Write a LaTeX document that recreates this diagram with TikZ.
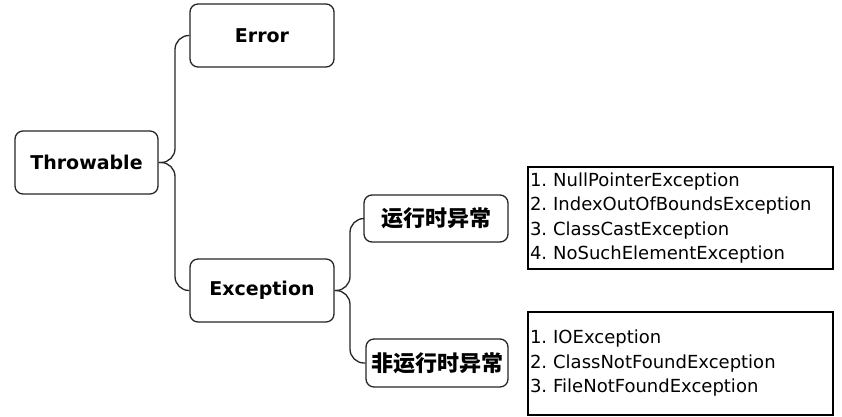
\documentclass[tikz,border=0pt]{standalone}
\usepackage{fontspec}
\setmainfont{DejaVu Sans}
\newfontfamily\cjk{Noto Sans CJK SC}
\frenchspacing
\begin{document}
\begin{tikzpicture}[x=1pt,y=-1pt,
  box/.style={draw=black!85, line width=1.3pt, rounded corners=8pt, fill=white, inner sep=0pt},
  title/.style={box, font=\fontsize{19}{22}\selectfont\bfseries},
  cn/.style={box, font=\cjk\bfseries\fontsize{22}{24}\selectfont},
  list/.style={draw=black, line width=1.5pt, inner sep=0pt, text width=301pt, minimum width=305pt, align=left, font=\fontsize{18}{24.5}\selectfont},
  conn/.style={draw=black!85, line width=1.3pt, rounded corners=14pt}
]
\useasboundingbox (0,0) rectangle (842,416);
\node[title, minimum width=143pt, minimum height=63pt] (thr) at (86.5,162.5) {Throwable};
\node[title, minimum width=144pt, minimum height=63pt] (err) at (262,35.5) {Error};
\node[title, minimum width=144pt, minimum height=63pt] (exc) at (262,290.5) {Exception};
\node[cn, minimum width=144pt, minimum height=47pt] (rt) at (436,218.5) {运行时异常};
\node[cn, minimum width=142pt, minimum height=48pt] (nrt) at (437,363) {非运行时异常};
\node[list, minimum height=102pt] (l1) at (680.5,218) {1. NullPointerException\\2. IndexOutOfBoundsException\\3. ClassCastException\\4. NoSuchElementException};
\node[list, minimum height=103pt] (l2) at (680.5,363.5) {1. IOException\\2. ClassNotFoundException\\3. FileNotFoundException};
\coordinate (b1) at (175,162.5);
\coordinate (b2) at (350,290.5);
\draw[conn] (thr.east) -- (b1) |- (err.west);
\draw[conn] (thr.east) -- (b1) |- (exc.west);
\draw[conn] (exc.east) -- (b2) |- (rt.west);
\draw[conn] (exc.east) -- (b2) |- (nrt.west);
\end{tikzpicture}
\end{document}
